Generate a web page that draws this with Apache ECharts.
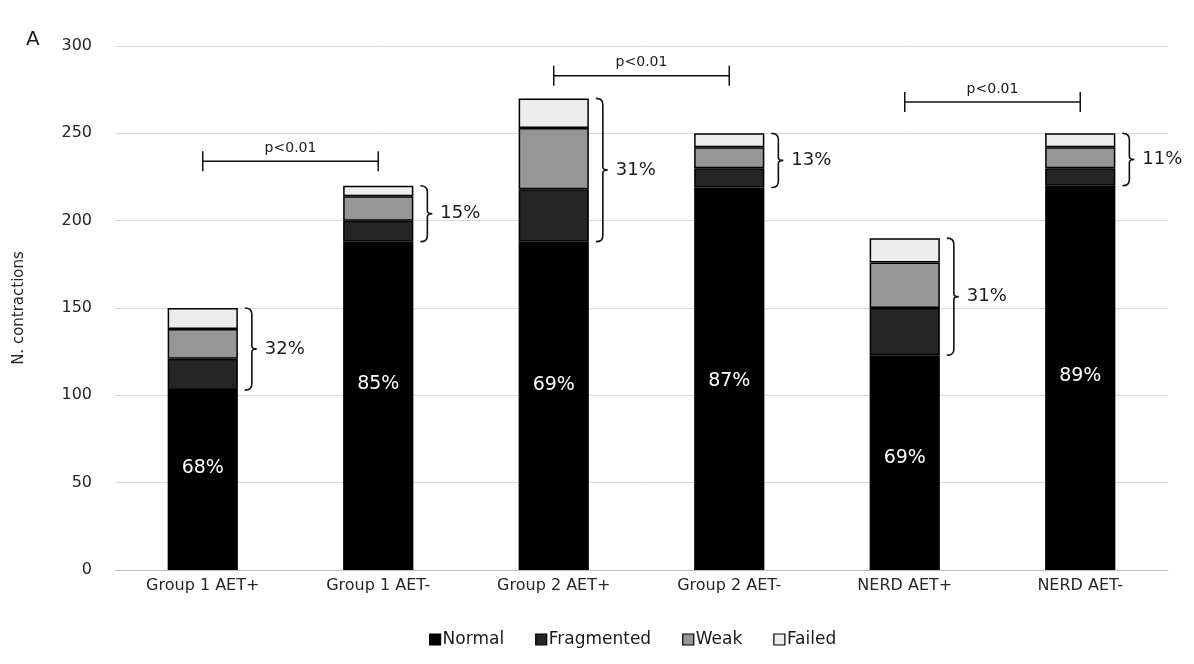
<!DOCTYPE html>
<html><head><meta charset="utf-8">
<script src="https://cdn.jsdelivr.net/npm/echarts@6/dist/echarts.min.js"></script>
<style>html,body{margin:0;padding:0;background:#fff}#c{width:1194px;height:664px}</style>
</head><body><div id="c"></div>
<script>
var categories = ['Group 1 AET+', 'Group 1 AET-', 'Group 2 AET+', 'Group 2 AET-', 'NERD AET+', 'NERD AET-'];
var normal     = [103, 188, 188, 219, 123, 220];
var fragmented = [18, 12, 30, 11, 27, 10];
var weak       = [17, 14, 35, 12, 26, 12];
var failed     = [12, 6, 17, 8, 14, 8];
var normalPct  = ['68%', '85%', '69%', '87%', '69%', '89%'];
var abnormalPct = ['32%', '15%', '31%', '13%', '31%', '11%'];
var sigPairs = [[0, 1], [2, 3], [4, 5]];
var sigLevel = [234, 283, 268];
var sigText = ['p<0.01', 'p<0.01', 'p<0.01'];
var yTicks = [0, 50, 100, 150, 200, 250, 300];

var chart = echarts.init(document.getElementById('c'));
var txt = '#262626';
var font = "'DejaVu Sans', 'Open Sans', sans-serif";
var labelShift = [-12, -22, -21, 2, -5, -2];

var totals = categories.map(function (c, i) { return normal[i] + fragmented[i] + weak[i] + failed[i]; });
var braceData = categories.map(function (c, i) { return [i, normal[i], totals[i], abnormalPct[i]]; });
var sigData = sigPairs.map(function (p, k) { return [p[0], p[1], sigLevel[k], sigText[k]]; });

function seg(name, data, color) {
  return {
    name: name, type: 'bar', stack: 'a', data: data, barWidth: '40%',
    itemStyle: { color: color, borderColor: '#000', borderWidth: 1.5 },
    emphasis: { disabled: true }
  };
}
var sNormal = seg('Normal', normal.map(function (v, i) {
  return { value: v, label: { show: true, position: 'inside', offset: [0, labelShift[i]], formatter: normalPct[i], color: '#fff', fontSize: 19, fontFamily: font } };
}), '#000000');

chart.setOption({
  animation: false,
  textStyle: { fontFamily: font },
  title: { text: 'A', left: 21, top: 25, textStyle: { fontSize: 20, fontWeight: 'normal', color: '#1a1a1a', fontFamily: font } },
  grid: { left: 115, right: 26, top: 46, bottom: 94 },
  legend: {
    bottom: 11, left: 424, itemWidth: 11, itemHeight: 11, itemGap: 31, icon: 'rect',
    data: ['Normal', 'Fragmented', 'Weak', 'Failed'],
    itemStyle: { borderColor: '#000', borderWidth: 1.2 },
    textStyle: { fontSize: 17, color: '#1a1a1a', fontFamily: font, padding: [0, 0, 0, -3] }
  },
  xAxis: {
    type: 'category', data: categories,
    axisLine: { lineStyle: { color: '#bfbfbf' } }, axisTick: { show: false },
    axisLabel: { color: txt, fontSize: 16, margin: 8 }
  },
  yAxis: {
    type: 'value', min: 0, max: 300, interval: 50,
    name: 'N. contractions', nameLocation: 'middle', nameGap: 88, nameRotate: 90,
    nameTextStyle: { color: txt, fontSize: 15 },
    axisLabel: { color: txt, fontSize: 16, margin: 23, formatter: function (v) { return yTicks.indexOf(v) >= 0 ? v : ''; } },
    splitLine: { lineStyle: { color: '#d9d9d9', width: 1 } },
    axisLine: { show: false }, axisTick: { show: false }
  },
  series: [
    sNormal,
    seg('Fragmented', fragmented, '#252525'),
    seg('Weak', weak, '#969696'),
    seg('Failed', failed, '#ececec'),
    {
      type: 'custom', data: braceData, silent: true, z: 5,
      renderItem: function (params, api) {
        var i = api.value(0);
        var p1 = api.coord([i, api.value(1)]);
        var p2 = api.coord([i, api.value(2)]);
        var bw = api.size([1, 0])[0] * 0.4;
        var x = p1[0] + bw / 2 + 14;
        var yb = p1[1], yt = p2[1], ym = (yb + yt) / 2;
        var h = 6;
        var d = 'M' + (x - 7) + ' ' + yt + ' Q' + x + ' ' + yt + ' ' + x + ' ' + (yt + h) +
          ' L' + x + ' ' + (ym - 3) + ' Q' + x + ' ' + ym + ' ' + (x + 5) + ' ' + ym +
          ' Q' + x + ' ' + ym + ' ' + x + ' ' + (ym + 3) +
          ' L' + x + ' ' + (yb - h) + ' Q' + x + ' ' + yb + ' ' + (x - 7) + ' ' + yb;
        return {
          type: 'group', children: [
            { type: 'path', shape: { pathData: d }, style: { fill: null, stroke: '#111', lineWidth: 1.6 } },
            { type: 'text', x: x + 13, y: ym, style: { text: api.value(3), fill: '#1a1a1a', fontSize: 18, fontFamily: font, verticalAlign: 'middle', align: 'left' } }
          ]
        };
      }
    },
    {
      type: 'custom', data: sigData, silent: true, z: 5,
      renderItem: function (params, api) {
        var a = api.coord([api.value(0), api.value(2)]);
        var b = api.coord([api.value(1), api.value(2)]);
        var y = a[1];
        return {
          type: 'group', children: [
            { type: 'line', shape: { x1: a[0], y1: y, x2: b[0], y2: y }, style: { stroke: '#111', lineWidth: 1.5 } },
            { type: 'line', shape: { x1: a[0], y1: y - 10, x2: a[0], y2: y + 10 }, style: { stroke: '#111', lineWidth: 1.5 } },
            { type: 'line', shape: { x1: b[0], y1: y - 10, x2: b[0], y2: y + 10 }, style: { stroke: '#111', lineWidth: 1.5 } },
            { type: 'text', x: (a[0] + b[0]) / 2, y: y - 6, style: { text: api.value(3), fill: '#1a1a1a', fontSize: 14, fontFamily: font, align: 'center', verticalAlign: 'bottom' } }
          ]
        };
      }
    }
  ]
});
</script></body></html>
